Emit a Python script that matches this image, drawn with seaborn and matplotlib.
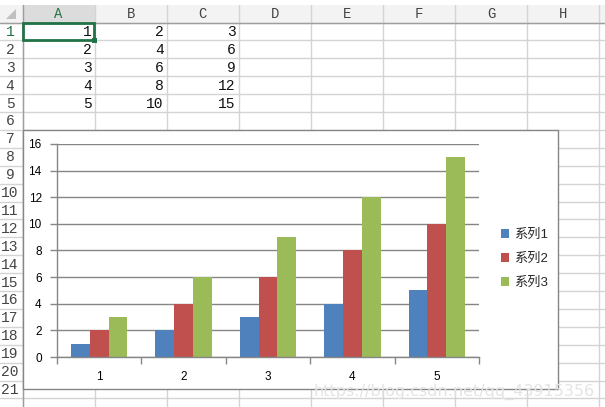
import matplotlib
matplotlib.use("Agg")
import matplotlib.pyplot as plt
import matplotlib.patches as mpatches
from matplotlib.ticker import FixedLocator
import seaborn as sns
import pandas as pd

# ---------------- data ----------------
categories = ["1", "2", "3", "4", "5"]
series_names = ["系列1", "系列2", "系列3"]
series1 = [1, 2, 3, 4, 5]
series2 = [2, 4, 6, 8, 10]
series3 = [3, 6, 9, 12, 15]
col_letters = ["A", "B", "C", "D", "E", "F", "G", "H"]
row_numbers = list(range(1, 22))
y_ticks = [0, 2, 4, 6, 8, 10, 12, 14, 16]
colors = ["#4F81BD", "#C0504D", "#9BBB59"]

sns.set_theme(style="white")
plt.rcParams["font.family"] = ["Liberation Sans", "Noto Sans CJK SC", "DejaVu Sans"]

W, H = 605, 407
fig = plt.figure(figsize=(W / 100, H / 100), dpi=100)
fig.patch.set_facecolor("white")

# ---------------- spreadsheet background (pixel coords) ----------------
bg = fig.add_axes([0, 0, 1, 1])
bg.set_xlim(0, W)
bg.set_ylim(H, 0)
bg.axis("off")

row_hdr_w = 22.5
hdr_top, hdr_bot = 5, 22.5
col_w = 72.1
row_h = 17.9
col_edges = [row_hdr_w + i * col_w for i in range(len(col_letters) + 1)]
row_edges = [hdr_bot + i * row_h for i in range(len(row_numbers) + 1)]
grid_c = "#d4d4d4"
mono = ["Liberation Mono", "DejaVu Sans Mono"]

# header backgrounds
bg.add_patch(mpatches.Rectangle((0, hdr_top), W, hdr_bot - hdr_top, color="#f3f3f3", lw=0, zorder=0))
bg.add_patch(mpatches.Rectangle((col_edges[0], hdr_top), col_w, hdr_bot - hdr_top, color="#dcdcdc", lw=0, zorder=0.5))
bg.add_patch(mpatches.Polygon([[16, 9], [16, 19], [6, 19]], closed=True, color="#c0c0c0", lw=0, zorder=1))

# grid lines
for x in col_edges:
    bg.plot([x, x], [hdr_top, H], color=grid_c, lw=1, zorder=1)
for y in row_edges:
    bg.plot([0, W], [y, y], color=grid_c, lw=1, zorder=1)
bg.plot([row_hdr_w, row_hdr_w], [hdr_top, H], color="#9e9e9e", lw=1, zorder=1.2)
bg.plot([0, W], [hdr_bot, hdr_bot], color="#9e9e9e", lw=1, zorder=1.2)

# header labels
for i, c in enumerate(col_letters):
    xc = (col_edges[i] + col_edges[i + 1]) / 2
    bg.text(xc, (hdr_top + hdr_bot) / 2 + 0.5, c, ha="center", va="center",
            fontsize=10, family=mono, color="#217346" if i == 0 else "#444444", zorder=2)
for j, r in enumerate(row_numbers):
    yc = (row_edges[j] + row_edges[j + 1]) / 2
    bg.text(10, yc + 0.5, str(r), ha="center", va="center",
            fontsize=10.5, family=mono, color="#217346" if j == 0 else "#444444", zorder=2)

# cell values
for ci, vals in enumerate([series1, series2, series3]):
    for ri, v in enumerate(vals):
        yc = (row_edges[ri] + row_edges[ri + 1]) / 2
        bg.text(col_edges[ci + 1] - 3, yc + 0.5, str(v), ha="right", va="center",
                fontsize=10.5, family=mono, color="#111111", zorder=2)

# selected cell A1
bg.add_patch(mpatches.Rectangle((col_edges[0] + 0.5, row_edges[0] + 0.5), col_w - 1, row_h - 1,
                                fill=False, ec="#217346", lw=2, zorder=3))
bg.add_patch(mpatches.Rectangle((col_edges[1] - 2.5, row_edges[1] - 2.5), 5, 5,
                                color="#217346", lw=0, zorder=3.5))

# chart area box
bg.add_patch(mpatches.Rectangle((23, 130), 535, 259, facecolor="white",
                                edgecolor="#868686", lw=1, zorder=4))

# watermark
bg.text(595, 392, "https://blog.csdn.net/qq_43915356", ha="right", va="center",
        fontsize=11.5, family=["DejaVu Sans"], color="#e4e4e4", zorder=5)

# ---------------- bar chart ----------------
px_l, px_r, px_t, px_b = 57, 479, 144, 357
ax = fig.add_axes([px_l / W, 1 - px_b / H, (px_r - px_l) / W, (px_b - px_t) / H])
ax.set_zorder(10)
ax.patch.set_alpha(0)

df = pd.DataFrame({
    "category": categories * 3,
    "series": [series_names[0]] * 5 + [series_names[1]] * 5 + [series_names[2]] * 5,
    "value": series1 + series2 + series3,
})
sns.barplot(data=df, x="category", y="value", hue="series", hue_order=series_names,
            order=categories, palette=colors, width=2 / 3, saturation=1,
            edgecolor="none", linewidth=0, ax=ax, legend=True)

ax.set_xlim(-0.5, 4.5)
ax.set_ylim(0, 16)
ax.yaxis.set_major_locator(FixedLocator(y_ticks))
ax.grid(axis="y", color="#868686", lw=1)
ax.set_axisbelow(True)
ax.set_xlabel("")
ax.set_ylabel("")
for s in ["top", "right"]:
    ax.spines[s].set_visible(False)
for s in ["left", "bottom"]:
    ax.spines[s].set_color("#868686")
    ax.spines[s].set_linewidth(1)

ax.xaxis.set_minor_locator(FixedLocator([-0.5, 0.5, 1.5, 2.5, 3.5, 4.5]))
ax.tick_params(axis="x", which="major", length=0, pad=10, labelsize=8.5, labelcolor="black")
ax.tick_params(axis="x", which="minor", length=5, width=1, color="#868686", direction="out", bottom=True)
ax.tick_params(axis="y", which="major", length=5, width=1, color="#868686", direction="out",
               left=True, pad=6, labelsize=8.5, labelcolor="black")

handles, labels = ax.get_legend_handles_labels()
ax.legend(handles, labels, loc="center left", bbox_to_anchor=(496 / W, 1 - 259 / H),
          bbox_transform=fig.transFigure, frameon=False, fontsize=9.5,
          handlelength=0.6, handleheight=0.6, handletextpad=0.4, labelspacing=0.9,
          borderaxespad=0)

fig.savefig("out.png", dpi=100, facecolor="white")
